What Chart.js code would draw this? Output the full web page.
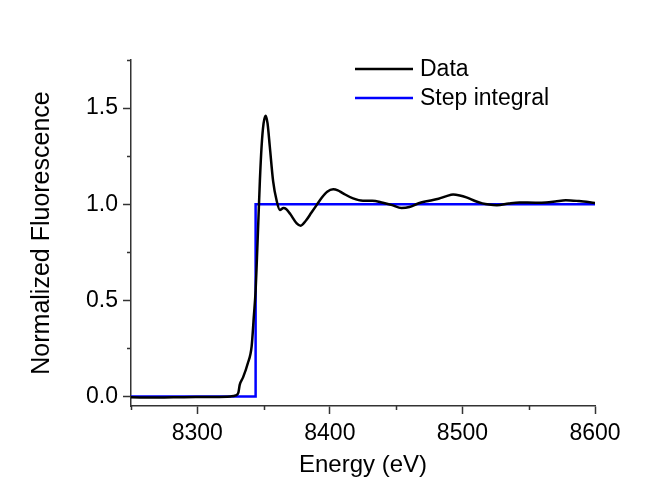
<!DOCTYPE html>
<html>
<head>
<meta charset="utf-8">
<script src="https://cdn.jsdelivr.net/npm/chart.js@4/dist/chart.umd.min.js"></script>
<style>
	html, body { margin: 0; padding: 0; background: #fff; }
	#wrap { width: 672px; height: 480px; }
</style>
</head>
<body>
<div id="wrap"><canvas id="chart" width="672" height="480"></canvas></div>
<script>
	// Measured XANES spectrum (energy in eV, normalised fluorescence).
	const energy = [ 8250, 8270, 8290, 8310, 8325, 8329, 8331, 8332, 8334.6, 8338, 8341, 8342.7, 8344, 8345, 8346, 8347.2, 8348.5, 8350, 8351.6, 8353, 8354.7, 8357.2, 8359.8, 8362.3, 8365, 8367, 8370, 8375, 8378, 8382, 8386, 8390, 8394, 8398, 8402.5, 8406, 8410, 8417.5, 8425, 8432, 8440, 8447, 8454, 8460, 8467, 8475, 8482, 8488, 8493, 8498, 8503, 8510, 8515, 8520, 8526, 8535, 8543, 8555, 8563, 8570, 8578, 8588, 8600 ];
	const fluorescence = [ -0.005, -0.006, -0.004, -0.003, 0.0, 0.005, 0.02, 0.06, 0.10, 0.17, 0.26, 0.42, 0.55, 0.72, 0.90, 1.12, 1.30, 1.42, 1.46, 1.42, 1.30, 1.12, 1.02, 0.97, 0.98, 0.975, 0.95, 0.90, 0.888, 0.915, 0.955, 0.995, 1.035, 1.065, 1.077, 1.072, 1.056, 1.03, 1.018, 1.018, 1.007, 0.995, 0.98, 0.985, 1.005, 1.018, 1.028, 1.042, 1.05, 1.045, 1.035, 1.015, 1.004, 0.998, 0.995, 1.004, 1.009, 1.008, 1.009, 1.014, 1.021, 1.016, 1.006 ];

	// Step function used for the edge integral.
	const stepEnergy = [ 8250, 8344, 8344, 8600 ];
	const stepValue = [ 0, 0, 1, 1 ];

	const seriesLabels = [ 'Data', 'Step integral' ];
	const seriesColors = [ '#000000', '#0000ff' ];

	// Axis ticks: majors carry labels, minors are short marks only.
	const xMajor = [ 8300, 8400, 8500, 8600 ];
	const xMinor = [ 8250, 8350, 8450, 8550 ];
	const yMajor = [ 0, 0.5, 1.0, 1.5 ];
	const yMinor = [ 0.25, 0.75, 1.25, 1.75 ];

	const AXIS = '#333333';
	const FONT = 'Liberation Sans, Arial, sans-serif';

	const toPoints = ( xs, ys ) => xs.map( ( x, i ) => ( { x, y: ys[ i ] } ) );
	const allTicks = ( major, minor ) => major.concat( minor ).sort( ( a, b ) => a - b ).map( ( value ) => ( { value } ) );

	// Short minor tick marks, placed through the scales.
	const minorTicks = {
		id: 'minorTicks',
		afterDraw( chart ) {
			const { ctx, scales: { x, y } } = chart;
			ctx.save();
			ctx.strokeStyle = AXIS;
			ctx.lineWidth = 1.5;
			ctx.beginPath();
			xMinor.forEach( ( v ) => {
				const px = Math.round( x.getPixelForValue( v ) ) + 0.5;
				ctx.moveTo( px, x.top );
				ctx.lineTo( px, x.top + 4 );
			} );
			yMinor.forEach( ( v ) => {
				const py = Math.round( y.getPixelForValue( v ) ) + 0.5;
				ctx.moveTo( y.right, py );
				ctx.lineTo( y.right - 4, py );
			} );
			ctx.stroke();
			ctx.restore();
		},
	};

	// Legend in the top right of the plot area, no frame.
	const plotLegend = {
		id: 'plotLegend',
		afterDraw( chart ) {
			const ctx = chart.ctx;
			ctx.save();
			ctx.font = '23px ' + FONT;
			ctx.textBaseline = 'middle';
			chart.data.datasets.forEach( ( ds, i ) => {
				const yy = 69 + i * 29;
				ctx.strokeStyle = ds.borderColor;
				ctx.lineWidth = 2.5;
				ctx.beginPath();
				ctx.moveTo( 355, yy );
				ctx.lineTo( 413, yy );
				ctx.stroke();
				ctx.fillStyle = '#000';
				ctx.fillText( ds.label, 420, yy + 1 );
			} );
			ctx.restore();
		},
	};

	new Chart( document.getElementById( 'chart' ), {
		type: 'line',
		data: {
			datasets: [
				{
					label: seriesLabels[ 0 ],
					data: toPoints( energy, fluorescence ),
					borderColor: seriesColors[ 0 ],
					borderWidth: 2.5,
					pointRadius: 0,
					cubicInterpolationMode: 'monotone',
				},
				{
					label: seriesLabels[ 1 ],
					data: toPoints( stepEnergy, stepValue ),
					borderColor: seriesColors[ 1 ],
					borderWidth: 2.5,
					pointRadius: 0,
					tension: 0,
				},
			],
		},
		options: {
			responsive: false,
			animation: false,
			layout: { padding: { top: 60, right: 77, left: 0, bottom: 0 } },
			plugins: { legend: { display: false }, tooltip: { enabled: false } },
			scales: {
				x: {
					type: 'linear',
					min: 8250,
					max: 8600,
					afterBuildTicks: ( s ) => { s.ticks = allTicks( xMajor, xMinor ); },
					afterFit: ( s ) => { s.height = 74; },
					ticks: {
						autoSkip: false,
						maxRotation: 0,
						padding: 6,
						color: '#000',
						font: { family: FONT, size: 23 },
						callback: ( v ) => ( xMajor.includes( v ) ? String( v ) : '' ),
					},
					grid: {
						drawOnChartArea: false,
						tickLength: 8,
						tickWidth: 1.5,
						tickColor: ( c ) => ( xMajor.includes( c.tick && c.tick.value ) ? AXIS : 'rgba(0,0,0,0)' ),
					},
					border: { color: AXIS, width: 1.5 },
					title: { display: true, text: 'Energy (eV)', color: '#000', font: { family: FONT, size: 24 }, padding: { top: 0, bottom: 0 } },
				},
				y: {
					type: 'linear',
					min: -0.05,
					max: 1.75,
					afterBuildTicks: ( s ) => { s.ticks = allTicks( yMajor, yMinor ); },
					afterFit: ( s ) => { s.width = 131; },
					ticks: {
						autoSkip: false,
						padding: 5,
						color: '#000',
						font: { family: FONT, size: 23 },
						callback: ( v ) => ( yMajor.includes( v ) ? v.toFixed( 1 ) : '' ),
					},
					grid: {
						drawOnChartArea: false,
						tickLength: 8,
						tickWidth: 1.5,
						tickColor: ( c ) => ( yMajor.includes( c.tick && c.tick.value ) ? AXIS : 'rgba(0,0,0,0)' ),
					},
					border: { color: AXIS, width: 1.5 },
					title: { display: true, text: 'Normalized Fluorescence', color: '#000', font: { family: FONT, size: 25 }, padding: { top: 27, bottom: 0 } },
				},
			},
		},
		plugins: [ minorTicks, plotLegend ],
	} );
</script>
</body>
</html>
